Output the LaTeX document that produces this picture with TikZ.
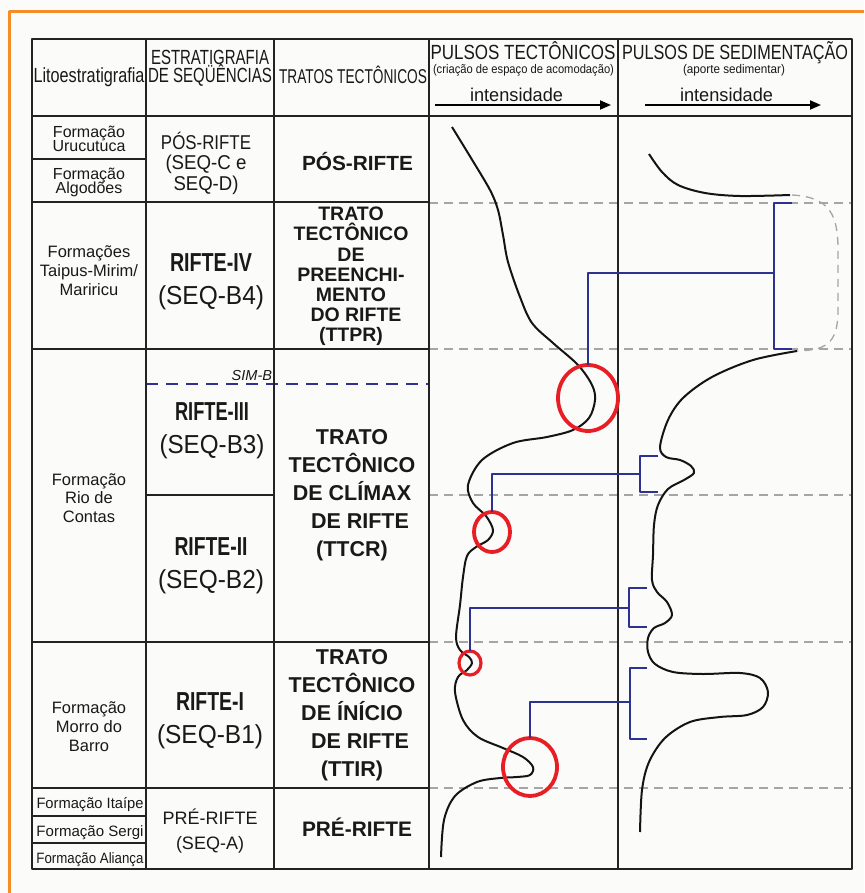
\documentclass[tikz,border=0pt]{standalone}
\usepackage{fontspec}
\setmainfont{Liberation Sans}
\usepackage{graphicx}
\usetikzlibrary{shapes.geometric,arrows.meta}
\definecolor{orangeframe}{RGB}{245,140,40}
\definecolor{tabline}{RGB}{35,35,35}
\definecolor{gridgray}{RGB}{165,165,165}
\definecolor{pulseblue}{RGB}{46,49,146}
\definecolor{markred}{RGB}{232,30,37}
\definecolor{bgpaper}{RGB}{251,251,249}
\definecolor{txt}{RGB}{25,25,25}
\newcommand\fitw[2]{\resizebox{#1}{\height}{#2}}
\newcommand\fsz[2]{\fontsize{#1}{#2}\selectfont}
\lineskiplimit=-100pt
\tikzset{
  lbl/.style={inner sep=0pt, outer sep=0pt, align=center, text=txt},
  tabframe/.style={draw=tabline, line width=2.8pt},
  tabrule/.style={draw=tabline, line width=1.1pt},
  griddash/.style={draw=gridgray, line width=1.3pt, dash pattern=on 9pt off 6pt},
  simdash/.style={draw=pulseblue, line width=2.4pt, dash pattern=on 12pt off 8pt},
  pulsecurve/.style={draw=black!92, line width=2pt},
  bluepulse/.style={draw=pulseblue, line width=2.1pt},
  redmark/.style={ellipse, draw=markred, line width=3.8pt, inner sep=0pt, outer sep=0pt},
  intarrow/.style={draw=black, line width=1.8pt, -{Triangle[length=11pt,width=9pt]}},
  orangeline/.style={draw=orangeframe, line width=3pt},
}
\begin{document}
\begin{tikzpicture}[x=1pt, y=-1pt, line join=round]
\useasboundingbox (0,0) rectangle (864,893);
\fill[bgpaper] (0,0) rectangle (864,893);
% orange frame (open at right and bottom)
\draw[orangeline] (9,893) -- (9,12) -- (864,12);

% grey dashed horizon lines in pulse columns
\foreach \yy in {203,349,495,642,788} \draw[griddash] (429,\yy) -- (852,\yy);
% SIM-B dashed line
\draw[simdash] (146,384) -- (429,384);

% table rules
\foreach \xx in {146,274,429,618} \draw[tabrule] (\xx,39) -- (\xx,869);
\draw[tabrule] (32,116) -- (852,116);
\draw[tabrule] (32,159) -- (146,159);
\foreach \yy in {202,349,642,788} \draw[tabrule] (32,\yy) -- (429,\yy);
\draw[tabrule] (146,495) -- (274,495);
\draw[tabrule] (32,816) -- (146,816);
\draw[tabrule] (32,843) -- (146,843);
\draw[tabframe] (32,39) rectangle (852,869);

% intensity arrows
\coordinate (ar1s) at (435,105); \coordinate (ar1e) at (611,105);
\coordinate (ar2s) at (645,105); \coordinate (ar2e) at (821,105);
\draw[intarrow] (ar1s) -- (ar1e);
\draw[intarrow] (ar2s) -- (ar2e);

% tectonic pulse curve
\draw[pulsecurve] plot[smooth, tension=0.55] coordinates {
 (452,127) (471,158) (490,190) (498,210) (503,235) (508,262) (520,297) (532,323)
 (553,343) (578,365) (592,385) (595,400) (589,418) (573,430) (547,437) (513,443)
 (482,460) (468,485) (473,503) (486,516) (493,530) (488,540) (476,547) (467,556)
 (463,577) (460,605) (456,637) (460,650) (469,657) (472,663) (467,670) (458,677)
 (455,692) (463,720) (478,737) (503,748) (523,757) (533,767) (530,775) (517,777)
 (500,778) (477,782) (455,796) (444,820) (441,857)};

% sedimentation pulse curve
\draw[pulsecurve] plot[smooth, tension=0.55] coordinates {
 (649,154) (662,172) (678,185) (705,193) (740,196) (790,195)};
\draw[griddash, dash pattern=on 8pt off 6pt] (792,195) .. controls (830,197) and (838,215) .. (838,250)
  -- (838,310) .. controls (838,345) and (825,350) .. (797,351);
\draw[pulsecurve] plot[smooth, tension=0.55] coordinates {
 (797,351) (753,360) (712,377) (683,398) (668,420) (660,447) (666,457) (680,460)
 (691,466) (694,473) (684,480) (668,489) (658,505) (654,525) (653,555) (652,580)
 (657,592) (667,602) (672,615) (665,623) (654,628) (648,638) (648,652) (655,664)
 (673,672) (703,674) (740,673) (760,678) (768,692) (763,707) (747,715) (720,717)
 (690,722) (665,738) (649,762) (642,790) (640,832)};

% red markers
\node[redmark, minimum width=60pt, minimum height=66pt] (c1) at (588,398) {};
\node[redmark, minimum width=36pt, minimum height=40pt] (c2) at (492,532) {};
\node[redmark, minimum width=22pt, minimum height=24pt, line width=3.2pt] (c3) at (470,663) {};
\node[redmark, minimum width=54pt, minimum height=58pt] (c4) at (530,767) {};

% blue brackets and links
\coordinate (bA) at (774,273);
\coordinate (bB) at (640,474);
\coordinate (bC) at (629,608);
\coordinate (bD) at (630,702);
\draw[bluepulse] (792,203) -- (774,203) -- (774,349) -- (792,349);
\draw[bluepulse] (658,456) -- (640,456) -- (640,492) -- (658,492);
\draw[bluepulse] (647,588) -- (629,588) -- (629,627) -- (647,627);
\draw[bluepulse] (647,668) -- (630,668) -- (630,739) -- (647,739);
\draw[bluepulse] (c1.north) |- (bA);
\draw[bluepulse] (c2.north) |- (bB);
\draw[bluepulse] (c3.north) |- (bC);
\draw[bluepulse] (c4.north) |- (bD);

% header texts
\node[lbl, anchor=base, font=\fsz{20.5}{20}] (hLito) at (89,83) {\fitw{111pt}{Litoestratigrafia}};
\node[lbl, font=\fsz{20.5}{18.5}] (hEst) at (210,68.5) {\fitw{118pt}{ESTRATIGRAFIA}\\\fitw{124pt}{DE SEQÜÊNCIAS}};
\node[lbl, anchor=base, font=\fsz{20}{20}] (hTra) at (353,84) {\fitw{148pt}{TRATOS TECTÔNICOS}};
\node[lbl, anchor=base, font=\fsz{20.5}{21}] (hPT) at (523,59.5) {\fitw{185pt}{PULSOS TECTÔNICOS}};
\node[lbl, anchor=base, font=\fsz{12.5}{13}] (hPTs) at (523.5,74) {\fitw{181pt}{(criação de espaço de acomodação)}};
\node[lbl, anchor=base, font=\fsz{18.5}{18.5}] (hPTi) at (516.5,102) {\fitw{93pt}{intensidade}};
\node[lbl, anchor=base, font=\fsz{20.5}{21}] (hPS) at (735,59.5) {\fitw{226pt}{PULSOS DE SEDIMENTAÇÃO}};
\node[lbl, anchor=base, font=\fsz{12.5}{13}] (hPSs) at (734,74) {\fitw{102pt}{(aporte sedimentar)}};
\node[lbl, anchor=base, font=\fsz{18.5}{18.5}] (hPSi) at (726.5,102) {\fitw{93pt}{intensidade}};

% lithostratigraphy
\node[lbl, font=\fsz{16}{14.5}] (fUru) at (89,139) {Formação\\Urucutuca};
\node[lbl, font=\fsz{16}{14.5}] (fAlg) at (89,182.5) {Formação\\Algodões};
\node[lbl, font=\fsz{16.5}{19}] (fTai) at (89,271) {Formações\\Taipus-Mirim/\\Mariricu};
\node[lbl, font=\fsz{16.5}{18.5}] (fRio) at (89,498) {Formação\\Rio de\\Contas};
\node[lbl, font=\fsz{16.5}{19}] (fMor) at (89,727) {Formação\\Morro do\\Barro};
\node[lbl, anchor=base, font=\fsz{15}{15}] (fIta) at (90,808) {\fitw{107pt}{Formação Itaípe}};
\node[lbl, anchor=base, font=\fsz{15}{15}] (fSer) at (90,836) {\fitw{107pt}{Formação Sergi}};
\node[lbl, anchor=base, font=\fsz{15}{15}] (fAli) at (90,863) {\fitw{107pt}{Formação Aliança}};

% sequence stratigraphy
\node[lbl, font=\fsz{20}{20.5}] (sPos) at (206,163.3) {\fitw{90pt}{PÓS-RIFTE}\\\fitw{81pt}{(SEQ-C e}\\\fitw{65pt}{SEQ-D)}};
\node[lbl, font=\fsz{26}{33}] (sR4) at (211,281.5) {\fitw{82pt}{\bfseries RIFTE-IV}\\\fitw{106pt}{(SEQ-B4)}};
\node[lbl, anchor=base east, font=\fsz{14.5}{14.5}\itshape] (sSim) at (272,380) {SIM-B};
\node[lbl, font=\fsz{26}{33}] (sR3) at (212,430.5) {\fitw{74pt}{\bfseries RIFTE-III}\\\fitw{105pt}{(SEQ-B3)}};
\node[lbl, font=\fsz{26}{33}] (sR2) at (211,565.5) {\fitw{73pt}{\bfseries RIFTE-II}\\\fitw{106pt}{(SEQ-B2)}};
\node[lbl, font=\fsz{26}{33}] (sR1) at (210,720.5) {\fitw{68pt}{\bfseries RIFTE-I}\\\fitw{106pt}{(SEQ-B1)}};
\node[lbl, font=\fsz{18}{25}] (sPre) at (210,831) {PRÉ-RIFTE\\(SEQ-A)};

% tectonic tracts
\node[lbl, anchor=base, font=\fsz{20.5}{20.5}\bfseries] (tPos) at (357.5,171) {\fitw{111pt}{PÓS-RIFTE}};
\node[lbl, font=\fsz{19.5}{20.2}\bfseries] (tTTPR) at (351,276.5) {TRATO\\TECTÔNICO\\DE\\PREENCHI-\\MENTO\\\hspace*{10pt}DO RIFTE\\(TTPR)};
\node[lbl, font=\fsz{21.5}{28}\bfseries] (tTTCR) at (352,495) {TRATO\\TECTÔNICO\\DE CLÍMAX\\\hspace*{16pt}DE RIFTE\\(TTCR)};
\node[lbl, font=\fsz{21.5}{28}\bfseries] (tTTIR) at (352,715) {TRATO\\TECTÔNICO\\DE ÍNÍCIO\\\hspace*{16pt}DE RIFTE\\(TTIR)};
\node[lbl, anchor=base, font=\fsz{21}{21}\bfseries] (tPre) at (357,836) {\fitw{110pt}{PRÉ-RIFTE}};
\end{tikzpicture}
\end{document}
